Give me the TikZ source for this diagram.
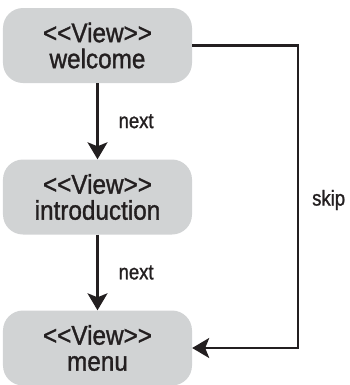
\documentclass[tikz,border=0pt]{standalone}
\usepackage{fontspec}
\setmainfont{Liberation Sans}
\newfontfamily\boxfont[FakeStretch=0.9,FakeBold=1.2]{Liberation Sans}
\newfontfamily\lblfont[FakeStretch=0.86,FakeBold=1.2]{Liberation Sans}
\usetikzlibrary{arrows.meta}
\definecolor{boxgray}{HTML}{D1D3D4}
\definecolor{ink}{HTML}{231F20}
\tikzset{
  viewbox/.style={fill=boxgray, rounded corners=20bp, minimum width=189bp,
    minimum height=75bp, inner sep=0pt, align=center, text=ink,
    font=\boxfont\fontsize{27bp}{26bp}\selectfont},
  conn/.style={draw=ink, line width=2.3bp,
    -{Stealth[length=17bp,width=20bp,inset=4bp]}},
  lbl/.style={inner sep=2bp, text=ink, font=\lblfont\fontsize{21.5bp}{24bp}\selectfont}
}
\begin{document}
\begin{tikzpicture}[x=1bp,y=-1bp]
\useasboundingbox (0,0) rectangle (350,385);
\node[viewbox] (welcome) at (97.5,45.5) {<<View>>\\welcome};
\node[viewbox] (intro) at (97.5,197) {<<View>>\\introduction};
\node[viewbox] (menu) at (97.5,348) {<<View>>\\menu};
\coordinate (sk) at (298,200);
\draw[conn] (welcome) -- node[lbl,right=18bp]{next} (intro);
\draw[conn] (intro) -- node[lbl,right=18bp]{next} (menu);
\draw[conn] (welcome.east) -| (sk) |- (menu.east);
\node[lbl,right=12bp] (skiplbl) at (sk) {skip};
\end{tikzpicture}
\end{document}
